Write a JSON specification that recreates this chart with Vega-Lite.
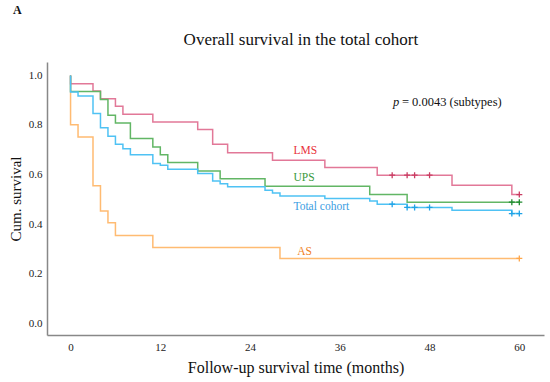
{
  "$schema": "https://vega.github.io/schema/vega-lite/v6.json",
  "width": 497,
  "height": 273,
  "autosize": "none",
  "padding": {"left": 47, "top": 62, "right": 6, "bottom": 47},
  "background": "white",
  "config": {
    "font": "Liberation Serif",
    "view": {"stroke": null},
    "text": {"font": "Liberation Serif"},
    "axis": {
      "labelFont": "Liberation Serif",
      "titleFont": "Liberation Serif",
      "titleFontWeight": "normal",
      "labelColor": "#222",
      "titleColor": "#111",
      "ticks": false,
      "grid": false,
      "domainColor": "#888",
      "domainWidth": 1.5,
      "labelFontSize": 11
    }
  },
  "datasets": {
    "curves": [
      {"group": "AS", "t": 0, "s": 1.0},
      {"group": "AS", "t": 0, "s": 0.801},
      {"group": "AS", "t": 1, "s": 0.751},
      {"group": "AS", "t": 3, "s": 0.554},
      {"group": "AS", "t": 4, "s": 0.453},
      {"group": "AS", "t": 5, "s": 0.405},
      {"group": "AS", "t": 6, "s": 0.354},
      {"group": "AS", "t": 11, "s": 0.305},
      {"group": "AS", "t": 28, "s": 0.261},
      {"group": "AS", "t": 60, "s": 0.261},
      {"group": "LMS", "t": 0, "s": 1.0},
      {"group": "LMS", "t": 0, "s": 0.966},
      {"group": "LMS", "t": 3, "s": 0.937},
      {"group": "LMS", "t": 4, "s": 0.906},
      {"group": "LMS", "t": 6, "s": 0.875},
      {"group": "LMS", "t": 7, "s": 0.843},
      {"group": "LMS", "t": 11, "s": 0.812},
      {"group": "LMS", "t": 17, "s": 0.782},
      {"group": "LMS", "t": 19, "s": 0.722},
      {"group": "LMS", "t": 21, "s": 0.688},
      {"group": "LMS", "t": 27, "s": 0.657},
      {"group": "LMS", "t": 34, "s": 0.628},
      {"group": "LMS", "t": 41, "s": 0.597},
      {"group": "LMS", "t": 51, "s": 0.556},
      {"group": "LMS", "t": 59, "s": 0.519},
      {"group": "LMS", "t": 60, "s": 0.519},
      {"group": "UPS", "t": 0, "s": 1.0},
      {"group": "UPS", "t": 0, "s": 0.935},
      {"group": "UPS", "t": 4, "s": 0.903},
      {"group": "UPS", "t": 5, "s": 0.839},
      {"group": "UPS", "t": 6, "s": 0.808},
      {"group": "UPS", "t": 8, "s": 0.745},
      {"group": "UPS", "t": 11, "s": 0.711},
      {"group": "UPS", "t": 12, "s": 0.68},
      {"group": "UPS", "t": 13, "s": 0.648},
      {"group": "UPS", "t": 17, "s": 0.614},
      {"group": "UPS", "t": 20, "s": 0.583},
      {"group": "UPS", "t": 26, "s": 0.552},
      {"group": "UPS", "t": 40, "s": 0.519},
      {"group": "UPS", "t": 45, "s": 0.488},
      {"group": "UPS", "t": 60, "s": 0.488},
      {"group": "Total cohort", "t": 0, "s": 1.0},
      {"group": "Total cohort", "t": 0, "s": 0.933},
      {"group": "Total cohort", "t": 1, "s": 0.917},
      {"group": "Total cohort", "t": 3, "s": 0.846},
      {"group": "Total cohort", "t": 4, "s": 0.789},
      {"group": "Total cohort", "t": 5, "s": 0.754},
      {"group": "Total cohort", "t": 6, "s": 0.722},
      {"group": "Total cohort", "t": 7, "s": 0.704},
      {"group": "Total cohort", "t": 8, "s": 0.68},
      {"group": "Total cohort", "t": 11, "s": 0.644},
      {"group": "Total cohort", "t": 12, "s": 0.637},
      {"group": "Total cohort", "t": 13, "s": 0.621},
      {"group": "Total cohort", "t": 17, "s": 0.604},
      {"group": "Total cohort", "t": 19, "s": 0.574},
      {"group": "Total cohort", "t": 20, "s": 0.563},
      {"group": "Total cohort", "t": 21, "s": 0.55},
      {"group": "Total cohort", "t": 26, "s": 0.536},
      {"group": "Total cohort", "t": 27, "s": 0.525},
      {"group": "Total cohort", "t": 28, "s": 0.513},
      {"group": "Total cohort", "t": 34, "s": 0.503},
      {"group": "Total cohort", "t": 40, "s": 0.493},
      {"group": "Total cohort", "t": 41, "s": 0.48},
      {"group": "Total cohort", "t": 45, "s": 0.467},
      {"group": "Total cohort", "t": 51, "s": 0.456},
      {"group": "Total cohort", "t": 59, "s": 0.442},
      {"group": "Total cohort", "t": 60, "s": 0.442}
    ],
    "censors": [
      {"group": "AS", "t": 60, "s": 0.261},
      {"group": "LMS", "t": 43, "s": 0.597},
      {"group": "LMS", "t": 45, "s": 0.597},
      {"group": "LMS", "t": 46, "s": 0.597},
      {"group": "LMS", "t": 48, "s": 0.597},
      {"group": "LMS", "t": 60, "s": 0.519},
      {"group": "UPS", "t": 59, "s": 0.488},
      {"group": "UPS", "t": 60, "s": 0.488},
      {"group": "Total cohort", "t": 43, "s": 0.48},
      {"group": "Total cohort", "t": 45, "s": 0.467},
      {"group": "Total cohort", "t": 46, "s": 0.467},
      {"group": "Total cohort", "t": 48, "s": 0.467},
      {"group": "Total cohort", "t": 59, "s": 0.442},
      {"group": "Total cohort", "t": 60, "s": 0.442}
    ],
    "one": [{}]
  },
  "layer": [
    {
      "data": {"name": "curves"},
      "mark": {"type": "line", "interpolate": "step-after", "strokeWidth": 1.5},
      "encoding": {
        "x": {
          "field": "t", "type": "quantitative",
          "scale": {"domain": [-3.15, 63.3], "nice": false, "zero": false},
          "axis": {
            "values": [0, 12, 24, 36, 48, 60],
            "labelFont": "Liberation Serif",
            "labelFontSize": 11,
            "labelPadding": 6,
            "title": "Follow-up survival time (months)",
            "titleFont": "Liberation Serif",
            "titleFontSize": 16,
            "titlePadding": 7
          }
        },
        "y": {
          "field": "s", "type": "quantitative",
          "scale": {"domain": [-0.048, 1.054], "nice": false, "zero": false},
          "axis": {
            "values": [0, 0.2, 0.4, 0.6, 0.8, 1.0],
            "format": ".1f",
            "labelFont": "Liberation Serif",
            "labelFontSize": 11,
            "labelPadding": 5,
            "title": "Cum. survival",
            "titleFont": "Liberation Serif",
            "titleFontSize": 15,
            "titlePadding": 5
          }
        },
        "color": {
          "field": "group", "type": "nominal",
          "scale": {"domain": ["AS", "LMS", "UPS", "Total cohort"], "range": ["#ffbb72", "#e27898", "#62b665", "#4fc2f4"]},
          "legend": null
        }
      }
    },
    {
      "data": {"name": "censors"},
      "mark": {"type": "point", "shape": "M0,-1V1M-1,0H1", "filled": false, "strokeWidth": 1.3, "size": 36, "opacity": 1},
      "encoding": {
        "x": {"field": "t", "type": "quantitative"},
        "y": {"field": "s", "type": "quantitative"},
        "color": {
          "field": "group", "type": "nominal",
          "scale": {"domain": ["AS", "LMS", "UPS", "Total cohort"], "range": ["#ffa64a", "#c93c62", "#1f8a2f", "#1fa2e6"]},
          "legend": null
        }
      }
    },
    {
      "data": {"name": "one"},
      "mark": {"type": "text", "align": "left", "baseline": "middle", "font": "Liberation Serif", "fontSize": 11.5, "color": "#e8323c"},
      "encoding": {"x": {"datum": 29.8}, "y": {"datum": 0.695}, "text": {"value": "LMS"}}
    },
    {
      "data": {"name": "one"},
      "mark": {"type": "text", "align": "left", "baseline": "middle", "font": "Liberation Serif", "fontSize": 11.5, "color": "#3a9a3c"},
      "encoding": {"x": {"datum": 29.8}, "y": {"datum": 0.585}, "text": {"value": "UPS"}}
    },
    {
      "data": {"name": "one"},
      "mark": {"type": "text", "align": "left", "baseline": "middle", "font": "Liberation Serif", "fontSize": 11.5, "color": "#3a9de2"},
      "encoding": {"x": {"datum": 29.8}, "y": {"datum": 0.468}, "text": {"value": "Total cohort"}}
    },
    {
      "data": {"name": "one"},
      "mark": {"type": "text", "align": "left", "baseline": "middle", "font": "Liberation Serif", "fontSize": 11.5, "color": "#f07f1e"},
      "encoding": {"x": {"datum": 30.3}, "y": {"datum": 0.287}, "text": {"value": "AS"}}
    },
    {
      "data": {"name": "one"},
      "mark": {"type": "text", "align": "left", "baseline": "middle", "font": "Liberation Serif", "fontSize": 12.5, "fontStyle": "italic", "color": "#111"},
      "encoding": {"x": {"datum": 43.1}, "y": {"datum": 0.891}, "text": {"value": "p"}}
    },
    {
      "data": {"name": "one"},
      "mark": {"type": "text", "align": "left", "baseline": "middle", "font": "Liberation Serif", "fontSize": 12.5, "dx": 9, "color": "#111"},
      "encoding": {"x": {"datum": 43.1}, "y": {"datum": 0.891}, "text": {"value": "= 0.0043 (subtypes)"}}
    },
    {
      "data": {"name": "one"},
      "mark": {"type": "text", "align": "left", "baseline": "middle", "font": "Liberation Serif", "fontSize": 12, "fontWeight": "bold", "color": "#111"},
      "encoding": {"x": {"datum": -7.7}, "y": {"datum": 1.262}, "text": {"value": "A"}}
    },
    {
      "data": {"name": "one"},
      "mark": {"type": "text", "align": "center", "baseline": "middle", "font": "Liberation Serif", "fontSize": 17, "color": "#111"},
      "encoding": {"x": {"datum": 30.8}, "y": {"datum": 1.141}, "text": {"value": "Overall survival in the total cohort"}}
    }
  ],
  "resolve": {"scale": {"color": "independent"}}
}
